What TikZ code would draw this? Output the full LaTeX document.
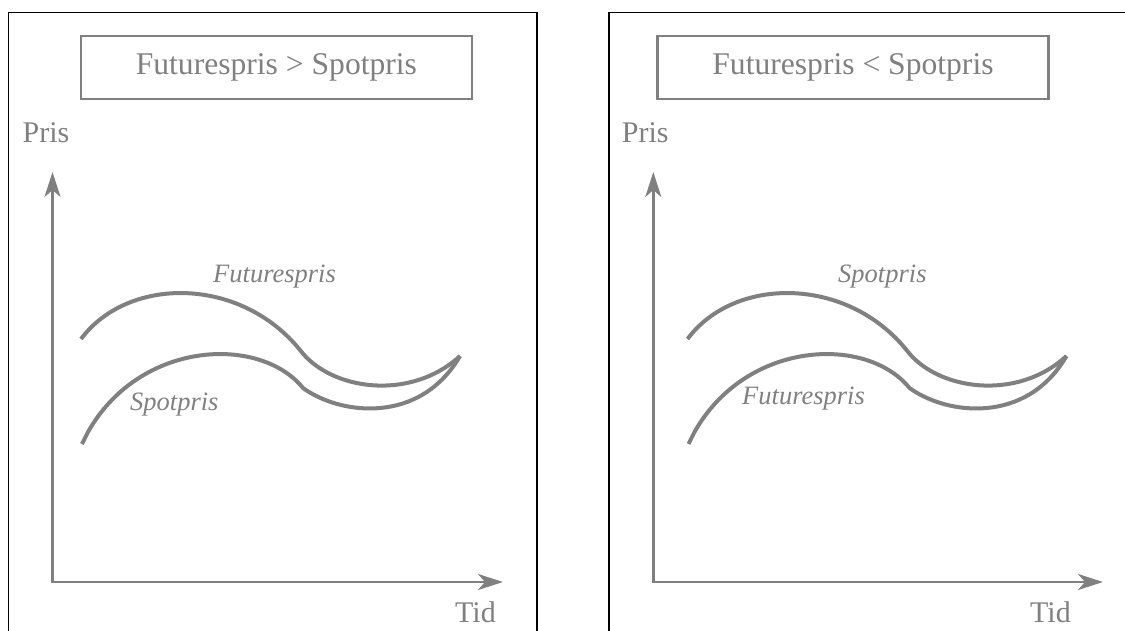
\documentclass[tikz,border=0pt]{standalone}
\usepackage{fontspec}
\setmainfont{Liberation Serif}
\usetikzlibrary{arrows.meta}
\definecolor{gr}{HTML}{808080}
\begin{document}
\begin{tikzpicture}[x=1pt,y=-1pt,
  frame/.style={draw=black,line width=1.6pt},
  titlebox/.style={draw=gr,line width=2.8pt,minimum width=391pt,minimum height=63pt,inner sep=0pt,text=gr,font=\fontsize{31.6}{38}\selectfont},
  lbl/.style={text=gr,font=\fontsize{30}{36}\selectfont,inner sep=0pt,anchor=base west},
  ilbl/.style={text=gr,font=\fontsize{26.5}{32}\selectfont\itshape,inner sep=0pt,anchor=base west},
  axis/.style={draw=gr,line width=2.5pt,line join=miter,{Stealth[length=25pt,width=16pt,inset=7pt]}-{Stealth[length=25pt,width=16pt,inset=7pt]}},
  curve/.style={draw=gr,line width=4pt}]
\useasboundingbox (0,0) rectangle (1125,631);
% frames
\coordinate (f1a) at (8.5,631);
\coordinate (f1b) at (8.5,12.7);
\coordinate (f1c) at (537,12.7);
\coordinate (f1d) at (537,631);
\draw[frame] (f1a) -- (f1b) -- (f1c) -- (f1d);
\coordinate (f2a) at (609,631);
\coordinate (f2b) at (609,12.7);
\coordinate (f2c) at (1125,12.7);
\draw[frame] (f2a) -- (f2b) -- (f2c);
% titles
\node[titlebox] (t1) at (276.4,67.5) {Futurespris > Spotpris};
\node[titlebox] (t2) at (853,67.5) {Futurespris < Spotpris};
% axis labels
\node[lbl] (p1) at (22.4,143) {Pris};
\node[lbl] (p2) at (621.7,143) {Pris};
\node[lbl] (d1) at (455,622) {Tid};
\node[lbl] (d2) at (1030,622) {Tid};
% axes
\coordinate (y1) at (52.5,172);
\coordinate (o1) at (52.5,582);
\coordinate (x1) at (503,582);
\draw[axis] (y1) -- (o1) -- (x1);
\coordinate (y2) at (653.3,172);
\coordinate (o2) at (653.3,582);
\coordinate (x2) at (1103,582);
\draw[axis] (y2) -- (o2) -- (x2);
% curves left
\draw[curve] (81,339) .. controls (128,276) and (240,276) .. (300,350) .. controls (330,390) and (410,402) .. (460,356);
\draw[curve] (82,444) -- (88,432) .. controls (140,340) and (260,335) .. (303,388) .. controls (340,415) and (420,425) .. (460,356);
\node[ilbl] (lf1) at (213,283) {Futurespris};
\node[ilbl] (ls1) at (130,410) {Spotpris};
% curves right
\begin{scope}[xshift=606.5pt]
\draw[curve] (81,339) .. controls (128,276) and (240,276) .. (300,350) .. controls (330,390) and (410,402) .. (460,356);
\draw[curve] (82,444) -- (88,432) .. controls (140,340) and (260,335) .. (303,388) .. controls (340,415) and (420,425) .. (460,356);
\end{scope}
\node[ilbl] (rs2) at (838,283) {Spotpris};
\node[ilbl] (rf2) at (742,404) {Futurespris};
\end{tikzpicture}
\end{document}
